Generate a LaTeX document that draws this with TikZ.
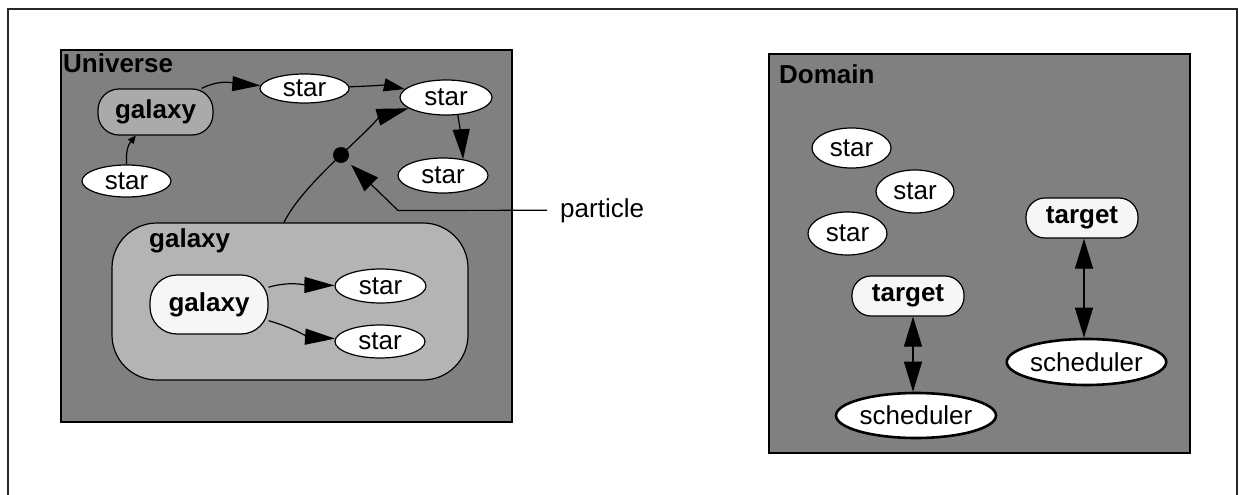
\documentclass[tikz,border=0pt]{standalone}
\usepackage{fontspec}
\setmainfont{Liberation Sans}
\usetikzlibrary{arrows.meta,shapes.geometric}

\definecolor{boxgray}{RGB}{128,128,128}
\definecolor{galgray}{RGB}{170,170,170}
\definecolor{outergal}{RGB}{180,180,180}
\definecolor{paper}{RGB}{246,246,246}
\definecolor{framegray}{RGB}{40,40,40}

\tikzset{
  txt/.style={font=\fontsize{26}{30}\selectfont},
  btxt/.style={font=\fontsize{26}{30}\selectfont\bfseries},
  starnode/.style={ellipse, draw, fill=white, line width=1.2pt, inner sep=0pt, txt},
  schednode/.style={ellipse, draw, fill=white, line width=2.6pt, inner sep=0pt, txt},
  galnode/.style={rectangle, draw, line width=1.2pt, inner sep=0pt, btxt},
  container/.style={draw=black, fill=boxgray, line width=1.5pt},
  conn/.style={line width=1.2pt},
}

\begin{document}
\begin{tikzpicture}[x=1pt,y=-1pt]
\useasboundingbox (0,0) rectangle (1239,495);

% page frame, open at the bottom
\draw[framegray, line width=1.6pt] (8,497) -- (8,9) -- (1237,9) -- (1237,497);

% ---------- Universe ----------
\draw[container] (61,50) rectangle (512,422);
\node[btxt, anchor=base west, inner sep=0pt] (ulabel) at (63,73) {Universe};

\node[galnode, fill=outergal, rounded corners=45pt,
      minimum width=356pt, minimum height=157pt] (galB) at (290,301.5) {};
\node[btxt, anchor=base west, inner sep=0pt] (galBlabel) at (149,247) {galaxy};

\node[galnode, fill=galgray, rounded corners=21pt,
      minimum width=115pt, minimum height=46pt] (galU) at (155.5,112) {galaxy};
\node[galnode, fill=paper, rounded corners=27pt,
      minimum width=118pt, minimum height=59pt] (galI) at (209,304.5) {galaxy};

\node[starnode, minimum width=89pt, minimum height=29pt] (s1) at (304.5,88.5) {star};
\node[starnode, minimum width=92pt, minimum height=35pt] (s2) at (446,97.5) {star};
\node[starnode, minimum width=90pt, minimum height=35pt] (s3) at (443,175.5) {star};
\node[starnode, minimum width=89pt, minimum height=32pt] (s4) at (126.5,181) {star};
\node[starnode, minimum width=91pt, minimum height=34pt] (sa) at (380.5,286) {star};
\node[starnode, minimum width=90pt, minimum height=33pt] (sb) at (380,341.5) {star};

\node[circle, fill=black, inner sep=0pt, minimum size=16pt] (dot) at (341,155) {};

% connectors
\draw[conn, -{Triangle[length=28pt,width=15pt]}]
  (galU) .. controls (222,78) and (238,84) .. (s1);
\draw[conn, -{Triangle[length=21pt,width=13pt]}]
  (s1) .. controls (372,86) and (385,85) .. (s2);
\draw[conn, -{Triangle[length=30pt,width=17pt]}]
  (s2.-56) .. controls (460,128) and (462,142) .. (s3.39);
\draw[conn, -{Triangle[length=8pt,width=7pt]}]
  (s4.north) .. controls (126,150) and (128,145) .. (galU);
\draw[conn, -{Triangle[length=32pt,width=17pt]}]
  ([xshift=-6pt]galB.north) .. controls (295,200) and (320,175) .. (dot.center)
  .. controls (362,135) and (382,116) .. (s2);
\draw[conn, -{Triangle[length=30pt,width=16pt]}]
  (galI) .. controls (290,281) and (305,285) .. (sa);
\draw[conn, -{Triangle[length=30pt,width=16pt]}]
  (galI) .. controls (288,326) and (310,337) .. (sb);

% particle callout
\node[txt, anchor=base west, inner xsep=13pt, inner ysep=0pt] (part) at (547,217) {particle};
\coordinate (bend) at (398,210.5);
\draw[conn, -{Triangle[length=28pt,width=19pt]}, shorten >=6pt]
  (part.west) -- (bend) -- (dot);

% ---------- Domain ----------
\draw[container] (769,54) rectangle (1190,453);
\node[btxt, anchor=base west, inner sep=0pt] (dlabel) at (779,84) {Domain};

\node[starnode, minimum width=79pt, minimum height=40pt] (d1) at (851.5,148) {star};
\node[starnode, minimum width=78pt, minimum height=43pt] (d2) at (915,191.5) {star};
\node[starnode, minimum width=79pt, minimum height=43pt] (d3) at (847.5,233.5) {star};

\node[galnode, fill=paper, rounded corners=19pt,
      minimum width=112pt, minimum height=40pt] (tg1) at (908,296) {target};
\node[galnode, fill=paper, rounded corners=19pt,
      minimum width=112pt, minimum height=40pt] (tg2) at (1082,218) {target};

\node[schednode, minimum width=160pt, minimum height=45pt] (sch1) at (916,415.5) {scheduler};
\node[schednode, minimum width=159pt, minimum height=46pt] (sch2) at (1086.5,362) {scheduler};

\draw[conn, {Triangle[length=30pt,width=18pt]}-{Triangle[length=30pt,width=18pt]}]
  ([xshift=5pt]tg1.south) -- ([xshift=-3pt]sch1.north);
\draw[conn, {Triangle[length=30pt,width=18pt]}-{Triangle[length=30pt,width=18pt]}]
  ([xshift=2pt]tg2.south) -- ([xshift=-2.5pt]sch2.north);
\end{tikzpicture}
\end{document}
